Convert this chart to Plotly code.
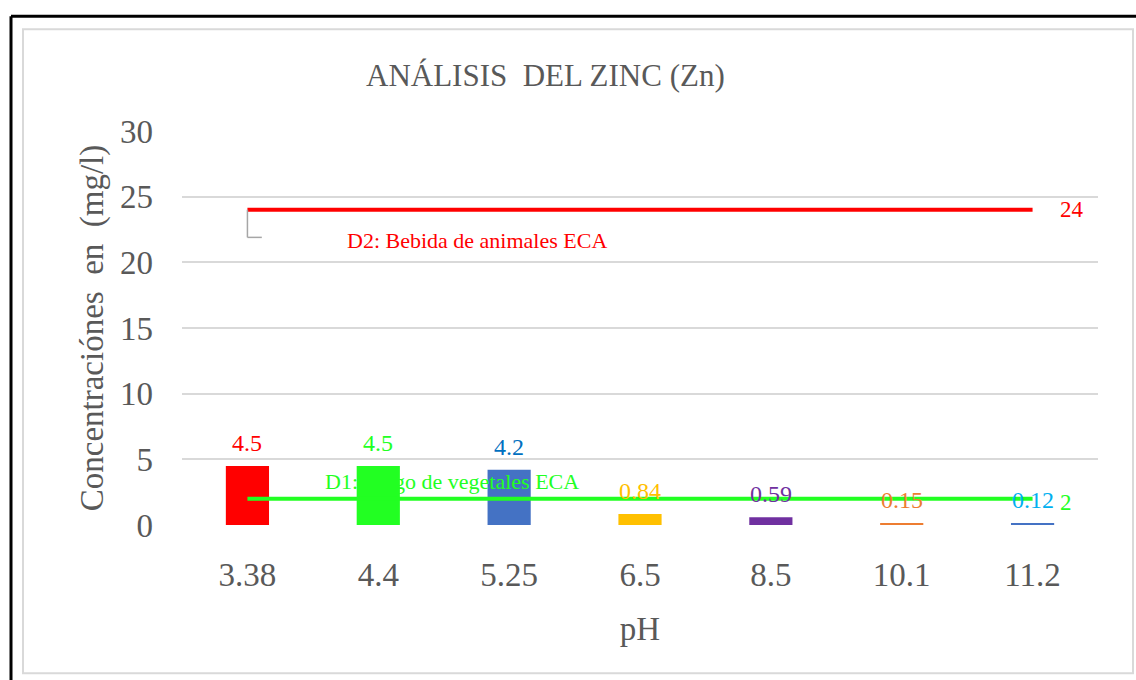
import plotly.graph_objects as go

# pH categories and zinc concentrations (mg/l)
ph = ['3.38', '4.4', '5.25', '6.5', '8.5', '10.1', '11.2']
zinc = [4.5, 4.5, 4.2, 0.84, 0.59, 0.15, 0.12]
bar_colors = ['#FF0000', '#22FF22', '#4472C4', '#FFC000', '#7030A0', '#ED7D31', '#4472C4']
label_colors = ['#FF0000', '#22FF22', '#0070C0', '#FFC000', '#7030A0', '#ED7D31', '#00B0F0']

# ECA limits
d2_limit = 24   # Bebida de animales
d1_limit = 2    # Riego de vegetales

FONT = 'Liberation Serif'
GREY = '#595959'

# plot area in pixels (for paper-coordinate decorations)
L, R, T, B = 182, 1098, 131, 525.5
def px(x): return (x - L) / (R - L)
def py(y): return (B - y) / (B - T)

fig = go.Figure()

fig.add_trace(go.Bar(
    x=ph, y=zinc, width=0.33,
    marker=dict(color=bar_colors, line=dict(width=0)),
    showlegend=False))

fig.add_trace(go.Scatter(x=ph, y=[d2_limit] * len(ph), mode='lines',
                         line=dict(color='#FF0000', width=4), showlegend=False))
fig.add_trace(go.Scatter(x=ph, y=[d1_limit] * len(ph), mode='lines',
                         line=dict(color='#22FF22', width=4), showlegend=False))

# data labels above the bars
annos = [dict(x=i, y=v, text=str(v), yanchor='bottom', yshift=8,
              font=dict(family=FONT, size=24, color=c))
         for i, (v, c) in enumerate(zip(zinc, label_colors))]

annos += [
    dict(x=6, y=d2_limit, text=str(d2_limit), xanchor='left', xshift=25, yanchor='middle',
         font=dict(family=FONT, size=23, color='#FF0000')),
    dict(x=6, y=d1_limit, text=str(d1_limit), xanchor='left', xshift=25, yshift=-4, yanchor='middle',
         font=dict(family=FONT, size=23, color='#22FF22')),
    dict(x=1.757, y=21.7, text='D2: Bebida de animales ECA', yanchor='middle',
         font=dict(family=FONT, size=22, color='#FF0000')),
    dict(x=1.566, y=3.3, text='D1: Riego de vegetales ECA', yanchor='middle',
         font=dict(family=FONT, size=22, color='#22FF22')),
    dict(x=px(545), y=py(75), xref='paper', yref='paper', text='ANÁLISIS  DEL ZINC (Zn)',
         yanchor='middle', font=dict(family=FONT, size=31, color=GREY)),
]
for a in annos:
    a.setdefault('xref', 'x')
    a.setdefault('yref', 'y')
    a['showarrow'] = False
fig.update_layout(annotations=annos)

shapes = [
    # leader line for D2 label
    dict(type='line', xref='x', yref='y', x0=0, x1=0, y0=24, y1=21.9,
         line=dict(color='#A6A6A6', width=1.5)),
    dict(type='line', xref='x', yref='y', x0=0, x1=0.11, y0=21.9, y1=21.9,
         line=dict(color='#A6A6A6', width=1.5)),
    # chart area border
    dict(type='rect', xref='paper', yref='paper', x0=px(23), x1=px(1133), y0=py(674), y1=py(29),
         line=dict(color='#D9D9D9', width=2), layer='below'),
    # black frame (top and left)
    dict(type='line', xref='paper', yref='paper', x0=px(11), x1=px(1140), y0=py(16), y1=py(16),
         line=dict(color='black', width=3)),
    dict(type='line', xref='paper', yref='paper', x0=px(11), x1=px(11), y0=py(16), y1=py(690),
         line=dict(color='black', width=3)),
]
fig.update_layout(shapes=shapes)

fig.update_layout(
    width=1136, height=680,
    margin=dict(l=L, r=1136 - R, t=T, b=680 - B),
    plot_bgcolor='white', paper_bgcolor='white',
    font=dict(family=FONT, color=GREY),
    xaxis=dict(type='category', range=[-0.5, 6.5], showgrid=False, showline=False, zeroline=False,
               tickfont=dict(size=33, color=GREY), ticklabelstandoff=27,
               title=dict(text='pH', font=dict(size=33, color=GREY), standoff=24)),
    yaxis=dict(range=[0, 30], dtick=5, showgrid=True, gridcolor='#D9D9D9', gridwidth=1.5,
               zeroline=False, showline=False,
               tickfont=dict(size=33, color=GREY), ticklabelstandoff=28,
               title=dict(text='Concentraciónes  en  (mg/l)', font=dict(size=33, color=GREY),
                          standoff=6)),
)

fig.write_html('out.html', config={'displayModeBar': False},
               post_script="document.body.style.margin='0';")
